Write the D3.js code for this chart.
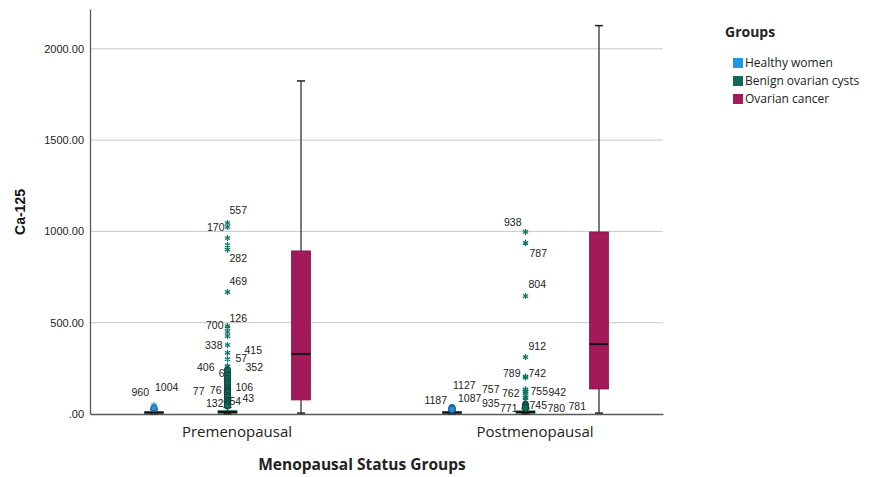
<!DOCTYPE html>
<html>
<head>
<meta charset="utf-8">
<script src="https://cdn.jsdelivr.net/npm/d3@7"></script>
<style>
  body { margin: 0; background: #fff; }
</style>
</head>
<body>
<div class="chart"></div>
<script>
// Data.
const statusGroups = ['Premenopausal', 'Postmenopausal'];
const groups = ['Healthy women', 'Benign ovarian cysts', 'Ovarian cancer'];
const groupColors = ['#2196e6', '#14685a', '#a4195a'];
const yTicks = [0, 500, 1000, 1500, 2000];

// Five-number summaries: [min, q1, median, q3, max]
const healthyPre = [1, 4, 8, 13, 24];
const benignPre = [1, 5, 10, 18, 36];
const cancerPre = [5, 77, 329, 893, 1824];
const healthyPost = [1, 4, 8, 13, 22];
const benignPost = [1, 5, 10, 17, 32];
const cancerPost = [5, 137, 383, 997, 2127];

// Outliers: [case id, value, kind]  (o = outlier, * = extreme)
const healthyPreOutliers = [[960, 49, '*'], [1004, 33, 'o']];
const benignPreOutliers = [
    [557, 1046, '*'], [170, 1024, '*'], [null, 964, '*'], [null, 925, '*'], [282, 900, '*'],
    [469, 668, '*'], [126, 482, '*'], [700, 470, '*'], [null, 449, '*'], [null, 427, '*'],
    [338, 378, '*'], [415, 335, '*'], [57, 300, '*'], [406, 262, '*'], [352, 257, '*'],
    [6, 225, 'o'], [null, 240, 'o'], [null, 210, 'o'], [null, 195, 'o'], [null, 180, 'o'],
    [null, 165, 'o'], [106, 148, 'o'], [null, 135, 'o'], [null, 125, 'o'], [76, 115, 'o'],
    [77, 115, 'o'], [null, 100, 'o'], [null, 90, 'o'], [43, 75, 'o'], [54, 70, 'o'],
    [132, 66, 'o'], [null, 55, 'o'], [null, 45, 'o']
];
const healthyPostOutliers = [[1127, 35, 'o'], [1187, 30, 'o'], [1087, 25, 'o']];
const benignPostOutliers = [
    [938, 997, '*'], [787, 937, '*'], [804, 646, '*'], [912, 312, '*'],
    [789, 205, '*'], [742, 200, '*'], [757, 135, '*'], [755, 125, '*'], [942, 122, '*'],
    [762, 115, '*'], [null, 100, '*'], [null, 88, '*'], [null, 76, '*'], [935, 60, '*'],
    [745, 50, 'o'], [781, 44, 'o'], [771, 33, 'o'], [780, 33, 'o']
];

// Label nudges [dx, dy] relative to the mark.
const labelNudge = {
    960: [-5, -9], 1004: [1, -17],
    557: [2, -9], 170: [-3, 4], 282: [2, 12], 469: [2, -7], 700: [-4, 1], 126: [2, -4],
    338: [-5, 4], 415: [17, 1], 57: [8, 3], 352: [18, 4], 406: [-13, 5], 6: [-3, 4],
    106: [8, 4], 76: [-6, 1], 77: [-23, 2], 132: [-4, 5], 54: [2, 4], 43: [15, 2],
    1187: [-5, -5], 1127: [1, -19], 1087: [6, -7],
    938: [-4, -6], 787: [4, 14], 804: [3, -8], 912: [3, -7], 789: [-5, 0], 742: [3, 0],
    757: [-26, 4], 762: [-6, 4], 755: [5, 4], 942: [23, 4], 935: [-26, 4], 771: [-8, 4],
    745: [4, 4], 780: [22, 4], 781: [43, 4]
};

const boxes = [
    {status: 'Premenopausal', group: 'Healthy women', s: healthyPre, out: healthyPreOutliers},
    {status: 'Premenopausal', group: 'Benign ovarian cysts', s: benignPre, out: benignPreOutliers},
    {status: 'Premenopausal', group: 'Ovarian cancer', s: cancerPre, out: []},
    {status: 'Postmenopausal', group: 'Healthy women', s: healthyPost, out: healthyPostOutliers},
    {status: 'Postmenopausal', group: 'Benign ovarian cysts', s: benignPost, out: benignPostOutliers},
    {status: 'Postmenopausal', group: 'Ovarian cancer', s: cancerPost, out: []}
];

// Layout.
const width = 875, height = 477;
const margin = {top: 9, left: 90, right: 212, bottom: 63};
const plotRight = width - margin.right;
const plotBottom = height - margin.bottom;

const svg = d3.select('.chart')
    .append('svg')
    .attr('width', width)
    .attr('height', height)
    .style('font-family', '"Liberation Sans", Arial, sans-serif');

// Scales.
const x = d3.scalePoint()
    .domain(statusGroups)
    .range([margin.left, plotRight])
    .padding(0.4614);

const xGroup = d3.scalePoint()
    .domain(groups)
    .range([-73.5, 73.5]);

const y = d3.scaleLinear()
    .domain([0, 2218])
    .range([plotBottom, margin.top]);

const color = d3.scaleOrdinal().domain(groups).range(groupColors);
const boxW = 19;

// Gridlines.
svg.append('g')
    .selectAll('line')
    .data(yTicks.filter(d => d > 0))
    .join('line')
    .attr('x1', margin.left)
    .attr('x2', plotRight)
    .attr('y1', d => y(d))
    .attr('y2', d => y(d))
    .attr('stroke', '#c8c8c8')
    .attr('stroke-width', 1);

// Y axis.
const yAxis = svg.append('g')
    .attr('transform', `translate(${margin.left},0)`)
    .call(d3.axisLeft(y)
        .tickValues(yTicks)
        .tickSize(0)
        .tickPadding(6)
        .tickFormat(d => d === 0 ? '.00' : d3.format('.2f')(d)));
yAxis.select('.domain').attr('stroke', '#5a5a5a').attr('stroke-width', 1.3);
yAxis.selectAll('text').attr('font-size', 11).attr('fill', '#222')
    .style('font-family', '"Liberation Sans", Arial, sans-serif');

// X axis.
const xAxis = svg.append('g')
    .attr('transform', `translate(0,${plotBottom})`)
    .call(d3.axisBottom(x).tickSize(0).tickPadding(12));
xAxis.select('.domain').attr('stroke', '#5a5a5a').attr('stroke-width', 1.3);
xAxis.selectAll('text')
    .attr('font-size', 15)
    .attr('fill', '#222')
    .attr('dx', 9)
    .style('font-family', '"Open Sans", sans-serif');

// Axis titles.
svg.append('text')
    .attr('transform', `translate(25, 212) rotate(-90)`)
    .attr('text-anchor', 'middle')
    .attr('font-size', 14)
    .attr('font-weight', 'bold')
    .attr('fill', '#111')
    .text('Ca-125');

svg.append('text')
    .attr('x', 362)
    .attr('y', 470)
    .attr('text-anchor', 'middle')
    .attr('font-size', 15.5)
    .attr('font-weight', 'bold')
    .attr('fill', '#222')
    .style('font-family', '"Open Sans", sans-serif')
    .text('Menopausal Status Groups');

// Boxes.
const bx = d => x(d.status) + xGroup(d.group);
const boxG = svg.append('g')
    .selectAll('g')
    .data(boxes)
    .join('g');

boxG.append('line') // whisker
    .attr('x1', bx).attr('x2', bx)
    .attr('y1', d => y(d.s[0]))
    .attr('y2', d => y(d.s[4]))
    .attr('stroke', '#333')
    .attr('stroke-width', 1.3);

boxG.selectAll('.cap')
    .data(d => [d.s[0], d.s[4]].map(v => ({v, d})))
    .join('line')
    .attr('class', 'cap')
    .attr('x1', o => bx(o.d) - 4).attr('x2', o => bx(o.d) + 4)
    .attr('y1', o => y(o.v)).attr('y2', o => y(o.v))
    .attr('stroke', '#222')
    .attr('stroke-width', 1.5);

boxG.append('rect')
    .attr('x', d => bx(d) - boxW / 2)
    .attr('width', boxW)
    .attr('y', d => y(d.s[3]))
    .attr('height', d => Math.max(2, y(d.s[1]) - y(d.s[3])))
    .attr('fill', d => color(d.group))
    .attr('stroke', d => d3.color(color(d.group)).darker(0.6))
    .attr('stroke-width', 0.8);

boxG.append('line') // median
    .attr('x1', d => bx(d) - boxW / 2).attr('x2', d => bx(d) + boxW / 2)
    .attr('y1', d => y(d.s[2])).attr('y2', d => y(d.s[2]))
    .attr('stroke', '#111')
    .attr('stroke-width', 2);

// Outliers.
const pts = boxes.flatMap(b => b.out.map(([id, v, kind]) => ({id, v, kind, b})));
const star = d3.symbol().type(d3.symbolAsterisk).size(26);

svg.append('g')
    .selectAll('path')
    .data(pts.filter(p => p.kind === '*'))
    .join('path')
    .attr('transform', p => `translate(${bx(p.b)},${y(p.v)})`)
    .attr('d', star)
    .attr('fill', 'none')
    .attr('stroke', p => d3.color(color(p.b.group)).brighter(0.3))
    .attr('stroke-width', 1.3);

svg.append('g')
    .selectAll('circle')
    .data(pts.filter(p => p.kind === 'o'))
    .join('circle')
    .attr('cx', p => bx(p.b))
    .attr('cy', p => y(p.v))
    .attr('r', 3.2)
    .attr('fill', p => color(p.b.group))
    .attr('stroke', p => d3.color(color(p.b.group)).darker(1.2))
    .attr('stroke-width', 1);

svg.append('g')
    .selectAll('text')
    .data(pts.filter(p => p.id !== null))
    .join('text')
    .attr('x', p => bx(p.b) + (labelNudge[p.id] || [4, 4])[0])
    .attr('y', p => y(p.v) + (labelNudge[p.id] || [4, 4])[1])
    .attr('text-anchor', p => (labelNudge[p.id] || [4])[0] < 0 ? 'end' : 'start')
    .attr('font-size', 10.5)
    .attr('fill', '#222')
    .text(p => p.id);

// Legend.
const legend = svg.append('g').attr('transform', 'translate(725,0)');
legend.append('text')
    .attr('x', 0)
    .attr('y', 37)
    .attr('font-size', 14)
    .attr('font-weight', 'bold')
    .attr('fill', '#222')
    .style('font-family', '"Open Sans", sans-serif')
    .text('Groups');

const item = legend.selectAll('.item')
    .data(groups)
    .join('g')
    .attr('class', 'item')
    .attr('transform', (d, i) => `translate(8,${63 + i * 18})`);

item.append('rect')
    .attr('x', 0).attr('y', -5)
    .attr('width', 10).attr('height', 10)
    .attr('fill', d => color(d));

item.append('text')
    .attr('x', 12)
    .attr('y', 4)
    .attr('font-size', 12)
    .attr('fill', '#222')
    .style('font-family', '"Open Sans", sans-serif')
    .text(d => d);
</script>
</body>
</html>
